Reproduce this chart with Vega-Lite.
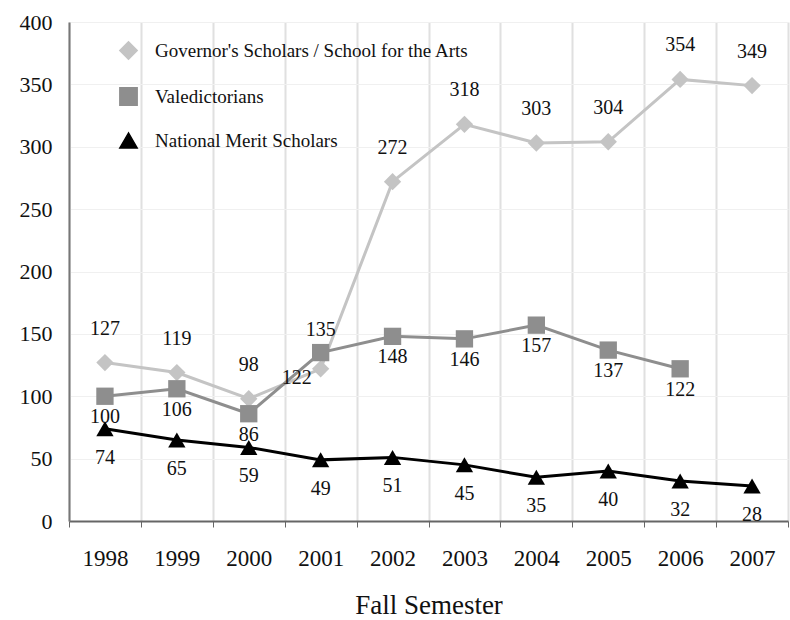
{
  "$schema": "https://vega.github.io/schema/vega-lite/v6.json",
  "width": 719,
  "height": 499,
  "autosize": "none",
  "padding": {"left": 69, "top": 22, "right": 2, "bottom": 99},
  "background": "white",
  "config": {
    "font": "Liberation Serif",
    "view": {"stroke": null}
  },
  "data": {
    "values": [
      {"year": "1998", "series": "Governor's Scholars / School for the Arts", "value": 127},
      {"year": "1999", "series": "Governor's Scholars / School for the Arts", "value": 119},
      {"year": "2000", "series": "Governor's Scholars / School for the Arts", "value": 98},
      {"year": "2001", "series": "Governor's Scholars / School for the Arts", "value": 122},
      {"year": "2002", "series": "Governor's Scholars / School for the Arts", "value": 272},
      {"year": "2003", "series": "Governor's Scholars / School for the Arts", "value": 318},
      {"year": "2004", "series": "Governor's Scholars / School for the Arts", "value": 303},
      {"year": "2005", "series": "Governor's Scholars / School for the Arts", "value": 304},
      {"year": "2006", "series": "Governor's Scholars / School for the Arts", "value": 354},
      {"year": "2007", "series": "Governor's Scholars / School for the Arts", "value": 349},
      {"year": "1998", "series": "Valedictorians", "value": 100},
      {"year": "1999", "series": "Valedictorians", "value": 106},
      {"year": "2000", "series": "Valedictorians", "value": 86},
      {"year": "2001", "series": "Valedictorians", "value": 135},
      {"year": "2002", "series": "Valedictorians", "value": 148},
      {"year": "2003", "series": "Valedictorians", "value": 146},
      {"year": "2004", "series": "Valedictorians", "value": 157},
      {"year": "2005", "series": "Valedictorians", "value": 137},
      {"year": "2006", "series": "Valedictorians", "value": 122},
      {"year": "1998", "series": "National Merit Scholars", "value": 74},
      {"year": "1999", "series": "National Merit Scholars", "value": 65},
      {"year": "2000", "series": "National Merit Scholars", "value": 59},
      {"year": "2001", "series": "National Merit Scholars", "value": 49},
      {"year": "2002", "series": "National Merit Scholars", "value": 51},
      {"year": "2003", "series": "National Merit Scholars", "value": 45},
      {"year": "2004", "series": "National Merit Scholars", "value": 35},
      {"year": "2005", "series": "National Merit Scholars", "value": 40},
      {"year": "2006", "series": "National Merit Scholars", "value": 32},
      {"year": "2007", "series": "National Merit Scholars", "value": 28}
    ]
  },
  "encoding": {
    "x": {
      "field": "year", "type": "ordinal",
      "scale": {"paddingInner": 0, "paddingOuter": 0},
      "axis": {
        "title": "Fall Semester",
        "titleFont": "Liberation Serif, Times New Roman, serif",
        "titleFontSize": 27, "titleFontWeight": 400, "titleColor": "#111",
        "titlePadding": 22,
        "labelFont": "Liberation Serif",
        "labelAngle": 0, "labelFontSize": 23, "labelColor": "#111", "labelPadding": 20,
        "tickBand": "extent", "tickSize": 6, "tickColor": "#666",
        "domainColor": "#666", "domainWidth": 2,
        "grid": true, "gridColor": "#e0e0e0", "gridWidth": 2
      }
    },
    "y": {
      "field": "value", "type": "quantitative",
      "scale": {"domain": [0, 400]},
      "axis": {
        "title": null, "values": [0, 50, 100, 150, 200, 250, 300, 350, 400],
        "labelFont": "Liberation Serif",
        "labelFontSize": 22, "labelColor": "#111", "labelPadding": 17,
        "ticks": false, "domainColor": "#777", "domainWidth": 2,
        "grid": true, "gridColor": "#f0f0f0", "gridWidth": 1
      }
    }
  },
  "layer": [
    {
      "mark": {"type": "line", "strokeWidth": 3},
      "encoding": {
        "color": {
          "field": "series", "type": "nominal",
          "scale": {
            "domain": ["Governor's Scholars / School for the Arts", "Valedictorians", "National Merit Scholars"],
            "range": ["#c4c4c4", "#8e8e8e", "#000000"]
          }
        },
        "order": {"field": "year"}
      }
    },
    {
      "mark": {"type": "point", "filled": true, "opacity": 1},
      "encoding": {
        "color": {
          "field": "series", "type": "nominal",
          "legend": {
            "title": null, "orient": "none", "legendX": 50, "legendY": 19,
            "labelFont": "Liberation Serif",
            "labelFontSize": 19, "labelColor": "#111", "rowPadding": 21,
            "labelOffset": 17, "labelLimit": 500, "direction": "vertical"
          }
        },
        "shape": {
          "field": "series", "type": "nominal",
          "scale": {
            "domain": ["Governor's Scholars / School for the Arts", "Valedictorians", "National Merit Scholars"],
            "range": ["diamond", "square", "triangle-up"]
          }
        },
        "size": {
          "field": "series", "type": "nominal",
          "scale": {
            "domain": ["Governor's Scholars / School for the Arts", "Valedictorians", "National Merit Scholars"],
            "range": [300, 300, 220]
          }
        }
      }
    },
    {
      "transform": [{"filter": "datum.series === \"Governor's Scholars / School for the Arts\" && datum.year !== '2001'"}],
      "mark": {"type": "text", "dy": -34, "fontSize": 20, "color": "#111", "font": "Liberation Serif"},
      "encoding": {"text": {"field": "value", "type": "quantitative"}}
    },
    {
      "transform": [{"filter": "datum.series === \"Governor's Scholars / School for the Arts\" && datum.year === '2001'"}],
      "mark": {"type": "text", "dy": 9, "dx": -24, "fontSize": 20, "color": "#111", "font": "Liberation Serif"},
      "encoding": {"text": {"field": "value", "type": "quantitative"}}
    },
    {
      "transform": [{"filter": "datum.series === 'Valedictorians' && datum.year !== '2001'"}],
      "mark": {"type": "text", "dy": 21, "fontSize": 20, "color": "#111", "font": "Liberation Serif"},
      "encoding": {"text": {"field": "value", "type": "quantitative"}}
    },
    {
      "transform": [{"filter": "datum.series === 'Valedictorians' && datum.year === '2001'"}],
      "mark": {"type": "text", "dy": -23, "fontSize": 20, "color": "#111", "font": "Liberation Serif"},
      "encoding": {"text": {"field": "value", "type": "quantitative"}}
    },
    {
      "transform": [{"filter": "datum.series === 'National Merit Scholars'"}],
      "mark": {"type": "text", "dy": 29, "fontSize": 20, "color": "#111", "font": "Liberation Serif"},
      "encoding": {"text": {"field": "value", "type": "quantitative"}}
    }
  ]
}
